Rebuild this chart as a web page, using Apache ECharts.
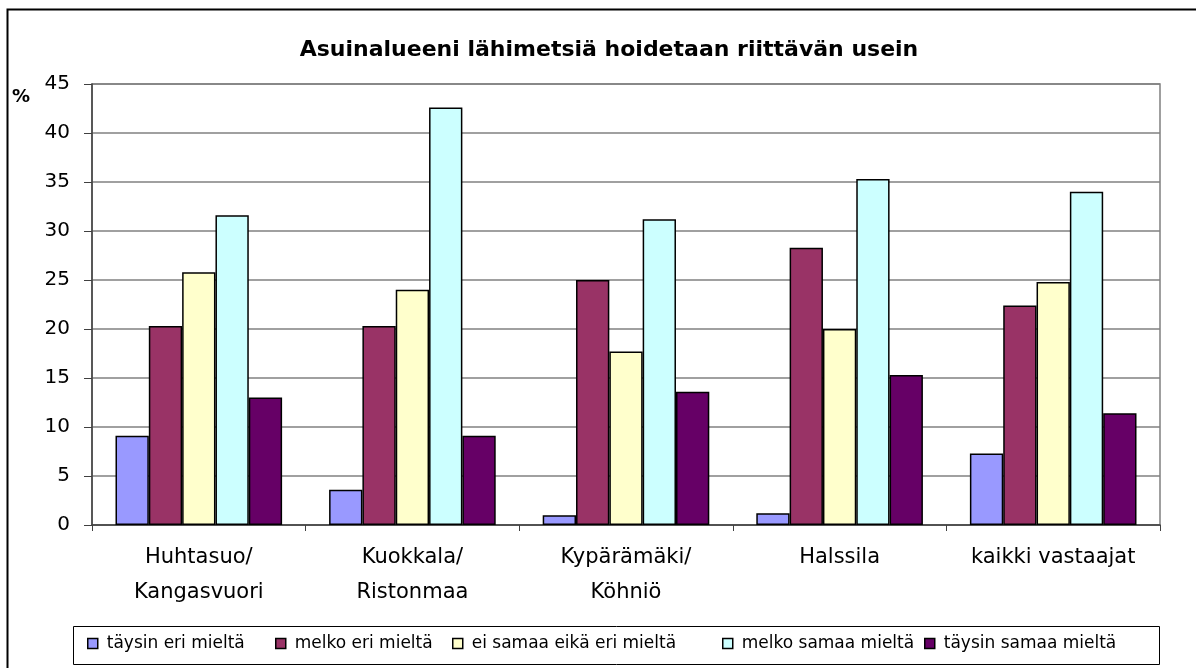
<!DOCTYPE html>
<html>
<head>
<meta charset="utf-8">
<script src="https://cdn.jsdelivr.net/npm/echarts@6/dist/echarts.min.js"></script>
<style>
  html, body { margin: 0; padding: 0; background: #fff; }
  #chart { width: 1196px; height: 668px; }
</style>
</head>
<body>
<div id="chart"></div>
<script>
// alueet (kategoriat)
const categories = ['Huhtasuo/\nKangasvuori', 'Kuokkala/\nRistonmaa', 'Kypärämäki/\nKöhniö', 'Halssila', 'kaikki vastaajat']
const seriesNames = ['täysin eri mieltä', 'melko eri mieltä', 'ei samaa eikä eri mieltä', 'melko samaa mieltä', 'täysin samaa mieltä']
const colors = ['#9999FF', '#993366', '#FFFFCC', '#CCFFFF', '#660066']

// prosentit per vastausvaihtoehto
const taysinEri = [9.1, 3.6, 1.0, 1.2, 7.3]
const melkoEri = [20.3, 20.3, 25.0, 28.3, 22.4]
const eiSamaaEikaEri = [25.8, 24.0, 17.7, 20.0, 24.8]
const melkoSamaa = [31.6, 42.6, 31.2, 35.3, 34.0]
const taysinSamaa = [13.0, 9.1, 13.6, 15.3, 11.4]

const yTicks = [0, 5, 10, 15, 20, 25, 30, 35, 40, 45]

const values = [taysinEri, melkoEri, eiSamaaEikaEri, melkoSamaa, taysinSamaa]
const font = 'DejaVu Sans, Verdana, sans-serif'

// legendin paikat (x) kuten alkuperäisessä
const legendLeft = [87, 275, 452, 722, 924]

const chart = echarts.init(document.getElementById('chart'))

const option = {
  animation: false,
  backgroundColor: '#fff',
  color: colors,
  title: {
    text: 'Asuinalueeni lähimetsiä hoidetaan riittävän usein',
    left: 604,
    textAlign: 'center',
    top: 34,
    textStyle: { fontFamily: font, fontSize: 22, fontWeight: 'bold', color: '#000' }
  },
  legend: seriesNames.map((name, i) => ({
    data: [name],
    left: legendLeft[i],
    top: 635,
    icon: 'rect',
    itemWidth: 10,
    itemHeight: 10,
    itemGap: 0,
    padding: 0,
    selectedMode: false,
    itemStyle: { borderColor: '#000', borderWidth: 1.5 },
    textStyle: { fontFamily: font, fontSize: 17, color: '#000', padding: [0, 0, 0, 4] }
  })),
  grid: {
    left: 92,
    right: 36,
    top: 84,
    bottom: 143,
    show: true,
    borderColor: '#808080',
    borderWidth: 1.5,
    containLabel: false
  },
  xAxis: {
    type: 'category',
    data: categories,
    boundaryGap: true,
    axisLine: { lineStyle: { color: '#404040', width: 1.5 } },
    axisTick: { show: true, interval: 0, length: 6, lineStyle: { color: '#404040' } },
    axisLabel: {
      interval: 0,
      margin: 15,
      fontFamily: font,
      fontSize: 21,
      lineHeight: 35,
      color: '#000'
    }
  },
  yAxis: {
    type: 'value',
    min: yTicks[0],
    max: yTicks[yTicks.length - 1],
    interval: 5,
    axisLine: { show: true, lineStyle: { color: '#404040', width: 1.5 } },
    axisTick: { show: true, length: 8, lineStyle: { color: '#404040' } },
    axisLabel: { margin: 22, fontFamily: font, fontSize: 20, color: '#000' },
    splitLine: { lineStyle: { color: '#808080', width: 1.5 } }
  },
  series: seriesNames.map((name, i) => ({
    name: name,
    type: 'bar',
    data: values[i],
    barGap: '0%',
    barCategoryGap: '22%',
    itemStyle: { color: colors[i], borderColor: '#000', borderWidth: 1.5 }
  })),
  graphic: [
    {
      type: 'rect',
      shape: { x: 7.5, y: 9.5, width: 1300, height: 800 },
      style: { fill: 'none', stroke: '#000', lineWidth: 2 },
      silent: true,
      z: -1
    },
    {
      type: 'rect',
      shape: { x: 73.5, y: 626.5, width: 1086, height: 38 },
      style: { fill: 'none', stroke: '#000', lineWidth: 1 },
      silent: true,
      z: -1
    },
    {
      type: 'text',
      left: 12,
      top: 88,
      style: { text: '%', fontFamily: font, fontSize: 18, fontWeight: 'bold', fill: '#000' }
    }
  ]
}

chart.setOption(option)
</script>
</body>
</html>
